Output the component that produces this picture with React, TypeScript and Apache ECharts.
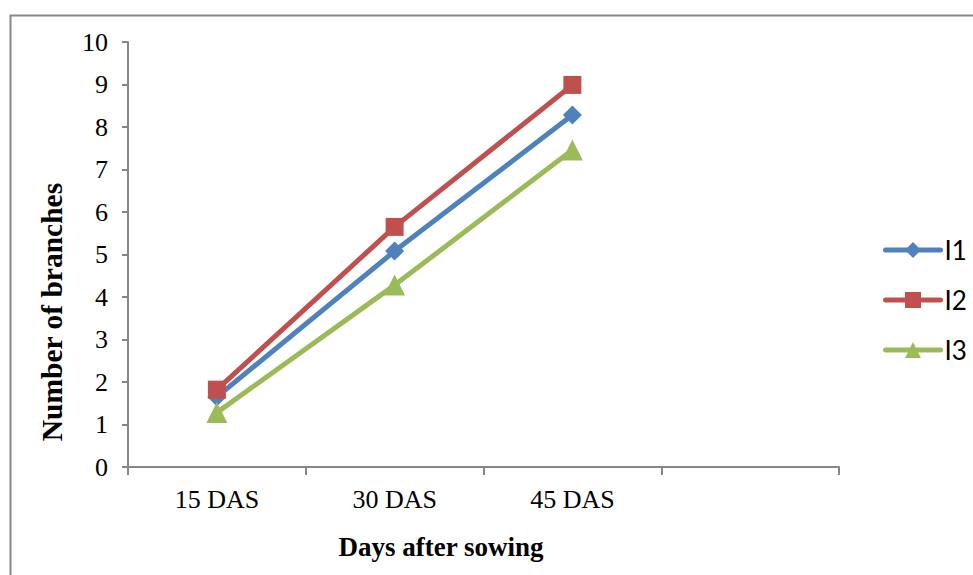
import React, { useEffect, useRef } from "react";
import * as echarts from "echarts";

const categories = ["15 DAS", "30 DAS", "45 DAS", ""];
const seriesNames = ["I1", "I2", "I3"];
const i1Values = [1.65, 5.08, 8.28];
const i2Values = [1.82, 5.65, 8.99];
const i3Values = [1.28, 4.28, 7.46];
const yTicks = { min: 0, max: 10, interval: 1 };

const serif = "'Liberation Serif', 'Times New Roman', serif";
const colors = ["#4F81BD", "#C0504D", "#9BBB59"];
const symbols = ["diamond", "rect", "triangle"];
const symbolSizes = [19, 18, 21];

export default function App() {
  const ref = useRef<HTMLDivElement>(null);

  useEffect(() => {
    if (!ref.current) return;
    const chart = echarts.init(ref.current, null, { renderer: "svg" });
    const values = [i1Values, i2Values, i3Values];
    chart.setOption({
      animation: false,
      backgroundColor: "#ffffff",
      grid: { left: 128, top: 42, right: 134, bottom: 108 },
      xAxis: {
        type: "category",
        data: categories,
        boundaryGap: true,
        axisLine: { lineStyle: { color: "#868686", width: 2 } },
        axisTick: { show: true, length: 8, lineStyle: { color: "#868686", width: 2 } },
        axisLabel: { color: "#000", fontFamily: serif, fontSize: 26, margin: 19 },
        splitLine: { show: false },
      },
      yAxis: {
        type: "value",
        min: yTicks.min,
        max: yTicks.max,
        interval: yTicks.interval,
        axisLine: { show: true, lineStyle: { color: "#868686", width: 2 } },
        axisTick: { show: true, length: 6, lineStyle: { color: "#868686", width: 2 } },
        axisLabel: { color: "#000", fontFamily: serif, fontSize: 26, margin: 20 },
        splitLine: { show: false },
      },
      legend: {
        orient: "vertical",
        left: 878,
        top: 232,
        itemWidth: 55,
        itemHeight: 20,
        itemGap: 24,
        lineStyle: { width: 5, cap: "round" },
        textStyle: {
          fontFamily: "Lato, 'Open Sans', sans-serif",
          fontSize: 26,
          color: "#000",
          padding: [0, 0, 0, -1],
        },
        data: seriesNames,
      },
      series: seriesNames.map((name, i) => ({
        name,
        type: "line",
        data: values[i],
        symbol: symbols[i],
        symbolSize: symbolSizes[i],
        color: colors[i],
        lineStyle: { color: colors[i], width: 5 },
        itemStyle: { color: colors[i] },
        z: 2 + i,
      })),
      graphic: [
        {
          type: "rect",
          left: 8,
          top: 13,
          shape: { x: 0, y: 0, width: 1000, height: 600 },
          style: { fill: "none", stroke: "#888888", lineWidth: 2 },
          silent: true,
        },
        {
          type: "text",
          x: 52,
          y: 312,
          rotation: Math.PI / 2,
          style: {
            text: "Number of branches",
            fontFamily: serif,
            fontWeight: "bold",
            fontSize: 29.5,
            fill: "#000",
            textAlign: "center",
            textVerticalAlign: "middle",
          },
        },
        {
          type: "text",
          x: 441,
          y: 547,
          style: {
            text: "Days after sowing",
            fontFamily: serif,
            fontWeight: "bold",
            fontSize: 27,
            fill: "#000",
            textAlign: "center",
            textVerticalAlign: "middle",
          },
        },
      ],
    });
    return () => chart.dispose();
  }, []);

  return (
    <div
      ref={ref}
      style={{ position: "absolute", left: 0, top: 0, width: 973, height: 575 }}
    />
  );
}
